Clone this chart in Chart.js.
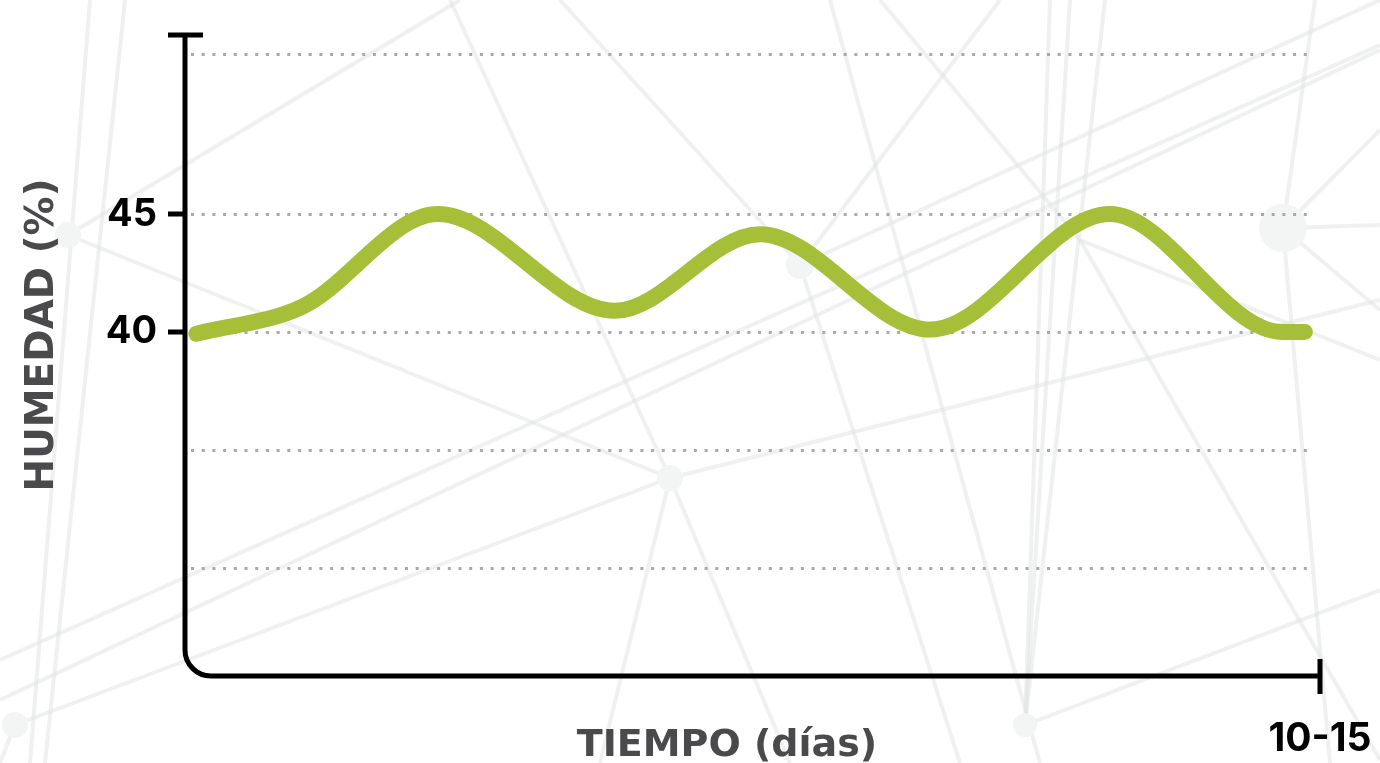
<!DOCTYPE html>
<html>
<head>
<meta charset="utf-8">
<script src="https://cdn.jsdelivr.net/npm/chart.js@4.4.0/dist/chart.umd.min.js"></script>
<style>
    html, body { margin: 0; padding: 0; background: #fff; }
    #wrap { width: 1380px; height: 763px; position: relative; }
</style>
</head>
<body>
<div id="wrap"><canvas id="humidityChart"></canvas></div>
<script>
// data (turning points of the curve)
const days = [0.15, 1.55, 3.34, 5.68, 7.6, 9.85, 12.22, 14.5, 14.8];
const humidity = [39.92, 41.07, 45.0, 40.9, 44.15, 40.1, 45.0, 40.0, 40.0];
const gridValues = [30, 35, 40, 45, 51.8];
const labeledTicks = [40, 45];
const xTickValue = 15;
const xTickLabel = '10-15';
const yTitle = 'HUMEDAD (%)';
const xTitle = 'TIEMPO (días)';

const NUM_FONT = 'Inter, "Open Sans", sans-serif';
const TITLE_FONT = '"DejaVu Sans", Inter, sans-serif';

// faint network in the background
const netLines = [
    [68, 235, 460, 0], [68, 235, 670, 478], [90, 0, 30, 763], [125, 0, 45, 763],
    [450, 0, 670, 478], [670, 478, 15, 725], [670, 478, 600, 763], [670, 478, 790, 763],
    [670, 478, 1380, 300], [800, 265, 1000, 0], [800, 265, 960, 763], [800, 265, 560, 0],
    [800, 265, 1380, 0], [1283, 228, 1380, 225], [1283, 228, 1380, 310], [1283, 228, 1315, 0],
    [1283, 228, 1330, 763], [1283, 228, 1380, 130], [1025, 725, 1380, 590], [1025, 725, 1105, 0],
    [1025, 725, 1070, 0], [1025, 725, 1050, 0], [15, 725, 0, 763], [0, 660, 1380, 45],
    [0, 700, 1380, 50], [1080, 240, 1380, 360], [1080, 240, 880, 0], [1080, 240, 1380, 760],
    [830, 0, 1040, 763]
];
const netNodes = [[68, 235, 13], [670, 478, 13], [800, 265, 14], [15, 725, 13], [1025, 725, 12], [1283, 228, 24]];

const backgroundNet = {
    id: 'backgroundNet',
    beforeDraw(chart) {
        const ctx = chart.ctx;
        ctx.save();
        ctx.strokeStyle = 'rgba(225,227,227,0.55)';
        ctx.lineWidth = 4;
        netLines.forEach(l => {
            ctx.beginPath();
            ctx.moveTo(l[0], l[1]);
            ctx.lineTo(l[2], l[3]);
            ctx.stroke();
        });
        ctx.fillStyle = '#f3f4f4';
        netNodes.forEach(n => {
            ctx.beginPath();
            ctx.arc(n[0], n[1], n[2], 0, Math.PI * 2);
            ctx.fill();
        });
        ctx.restore();
    }
};

const axesDecor = {
    id: 'axesDecor',
    beforeDatasetsDraw(chart) {
        const { ctx, chartArea: a, scales } = chart;
        ctx.save();
        // dotted grid
        ctx.strokeStyle = '#a9a9a9';
        ctx.lineWidth = 3;
        ctx.setLineDash([3, 7.7]);
        gridValues.forEach(v => {
            const y = Math.round(scales.y.getPixelForValue(v)) + 0.5;
            ctx.beginPath();
            ctx.moveTo(a.left + 6, y);
            ctx.lineTo(a.right - 12, y);
            ctx.stroke();
        });
        ctx.setLineDash([]);
        // axis lines with rounded corner
        const r = 26;
        ctx.strokeStyle = '#000';
        ctx.lineWidth = 5;
        ctx.beginPath();
        ctx.moveTo(a.left, a.top);
        ctx.lineTo(a.left, a.bottom - r);
        ctx.arcTo(a.left, a.bottom, a.left + r, a.bottom, r);
        ctx.lineTo(a.right, a.bottom);
        ctx.stroke();
        // caps and tick marks
        ctx.beginPath();
        ctx.moveTo(a.left - 17, a.top);
        ctx.lineTo(a.left + 18, a.top);
        ctx.moveTo(a.right, a.bottom - 17);
        ctx.lineTo(a.right, a.bottom + 18);
        labeledTicks.forEach(v => {
            const y = scales.y.getPixelForValue(v);
            ctx.moveTo(a.left - 17, y);
            ctx.lineTo(a.left, y);
        });
        ctx.stroke();
        // titles
        ctx.fillStyle = '#4a4a4c';
        ctx.font = 'bold 38px ' + TITLE_FONT;
        ctx.textAlign = 'center';
        ctx.textBaseline = 'alphabetic';
        ctx.fillText(xTitle, 727, 756);
        ctx.translate(53, 335);
        ctx.rotate(-Math.PI / 2);
        ctx.font = 'bold 39px ' + TITLE_FONT;
        ctx.fillText(yTitle, 0, 0);
        ctx.restore();
    }
};

new Chart(document.getElementById('humidityChart'), {
    type: 'line',
    data: {
        datasets: [{
            data: days.map((d, i) => ({ x: d, y: humidity[i] })),
            borderColor: '#a6bf38',
            borderWidth: 16,
            borderCapStyle: 'round',
            borderJoinStyle: 'round',
            pointRadius: 0,
            cubicInterpolationMode: 'monotone',
            fill: false,
            clip: false
        }]
    },
    options: {
        responsive: true,
        maintainAspectRatio: false,
        animation: false,
        layout: { padding: { top: 35, right: 60, left: 0, bottom: 0 } },
        plugins: { legend: { display: false }, tooltip: { enabled: false } },
        scales: {
            x: {
                type: 'linear',
                min: 0,
                max: 15,
                afterBuildTicks: s => { s.ticks = [{ value: xTickValue }]; },
                afterFit: s => { s.height = 87; s.paddingLeft = 0; s.paddingRight = 0; },
                ticks: {
                    callback: () => xTickLabel,
                    color: '#000',
                    font: { family: NUM_FONT, size: 39, weight: '700' },
                    padding: 40,
                    maxRotation: 0
                },
                grid: { display: false, drawTicks: false },
                border: { display: false }
            },
            y: {
                min: 25.4,
                max: 52.6,
                afterBuildTicks: s => { s.ticks = labeledTicks.map(v => ({ value: v })); },
                afterFit: s => { s.width = 185; s.paddingTop = 0; s.paddingBottom = 0; },
                ticks: {
                    callback: v => String(v),
                    color: '#000',
                    font: { family: NUM_FONT, size: 38, weight: '700' },
                    padding: 28
                },
                grid: { display: false, drawTicks: false },
                border: { display: false }
            }
        }
    },
    plugins: [backgroundNet, axesDecor]
});
</script>
</body>
</html>
